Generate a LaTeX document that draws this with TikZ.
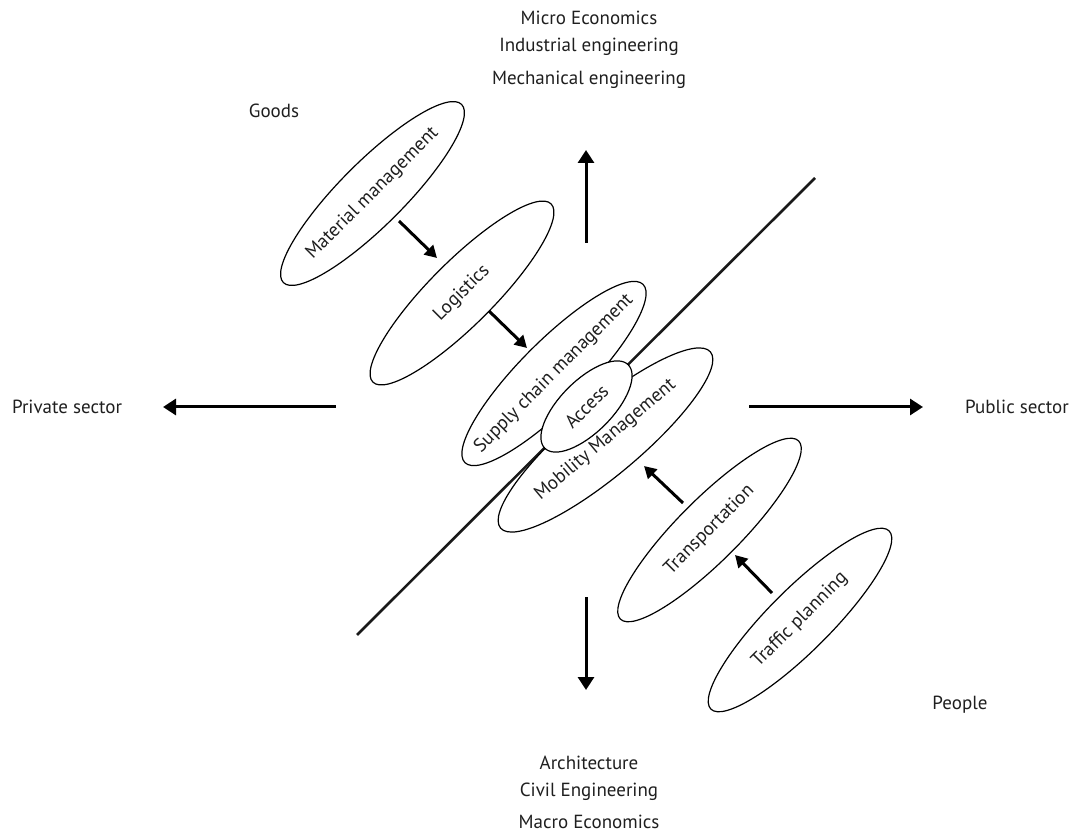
\documentclass[tikz,border=0pt]{standalone}
\usepackage{fontspec}
\setmainfont{PT Sans}
\usetikzlibrary{arrows.meta,shapes.geometric}
% text set without width, so the ellipse keeps its given size
\newcommand{\inell}[1]{\makebox[0pt]{#1}}
\begin{document}
\begin{tikzpicture}[x=1pt,y=-1pt,
  every node/.style={font=\fontsize{19}{22}\selectfont, text=black!88},
  field/.style={ellipse, draw, line width=1.2pt, fill=white, inner sep=0pt},
  flow/.style={line width=3pt, -{Triangle[length=12pt,width=13pt]}},
  axis/.style={line width=3pt, -{Triangle[length=13pt,width=16pt]}},
  label/.style={anchor=center, inner sep=0pt}]
\useasboundingbox (0,0) rectangle (1072,834);

% dividing diagonal
\coordinate (d1) at (357,635);
\coordinate (d2) at (815,178);
\draw[line width=2.6pt, black!90] (d1) -- (d2);

% fields along the diagonal
\node[field, minimum width=252pt, minimum height=64pt, rotate=45] (mat) at (372.5,193.5) {\inell{Material management}};
\node[field, minimum width=252pt, minimum height=64pt, rotate=45] (log) at (462,293) {\inell{Logistics}};
\node[field, minimum width=252pt, minimum height=66pt, rotate=45] (scm) at (554,373.5) {\inell{Supply chain management}};
\node[field, minimum width=274pt, minimum height=70pt, rotate=40] (mob) at (605.5,440) {\inell{Mobility Management}};
\node[field, minimum width=252pt, minimum height=62pt, rotate=45] (tra) at (709.5,530) {\inell{Transportation}};
\node[field, minimum width=252pt, minimum height=62pt, rotate=45] (tp) at (800,620) {\inell{Traffic planning}};
\node[field, minimum width=118pt, minimum height=52pt, rotate=45] (acc) at (586.5,406.5) {\inell{Access}};

% flows between fields
\coordinate (f1a) at (399,221);  \coordinate (f1b) at (437,258);
\coordinate (f2a) at (489,311);  \coordinate (f2b) at (527,348);
\coordinate (f3a) at (683,503);  \coordinate (f3b) at (644,466);
\coordinate (f4a) at (772,593);  \coordinate (f4b) at (735,555);
\draw[flow] (f1a) -- (f1b);
\draw[flow] (f2a) -- (f2b);
\draw[flow] (f3a) -- (f3b);
\draw[flow] (f4a) -- (f4b);

% axes
\coordinate (up0) at (586,243);  \coordinate (up1) at (586,150);
\coordinate (dn0) at (586,597);  \coordinate (dn1) at (586,690);
\coordinate (lf0) at (336,407);  \coordinate (lf1) at (163,407);
\coordinate (rt0) at (749,407);  \coordinate (rt1) at (923,407);
\draw[axis] (up0) -- (up1);
\draw[axis] (dn0) -- (dn1);
\draw[axis] (lf0) -- (lf1);
\draw[axis] (rt0) -- (rt1);

% labels
\node[label] (t1) at (589,18) {Micro Economics};
\node[label] (t2) at (589,47) {Industrial engineering};
\node[label] (t3) at (589,80) {Mechanical engineering};
\node[label] (goods) at (274,111) {Goods};
\node[label] (priv) at (67,407) {Private sector};
\node[label] (pub) at (1017,407) {Public sector};
\node[label] (people) at (960,705) {People};
\node[label] (b1) at (589,763) {Architecture};
\node[label] (b2) at (589,792) {Civil Engineering};
\node[label] (b3) at (589,822) {Macro Economics};
\end{tikzpicture}
\end{document}
